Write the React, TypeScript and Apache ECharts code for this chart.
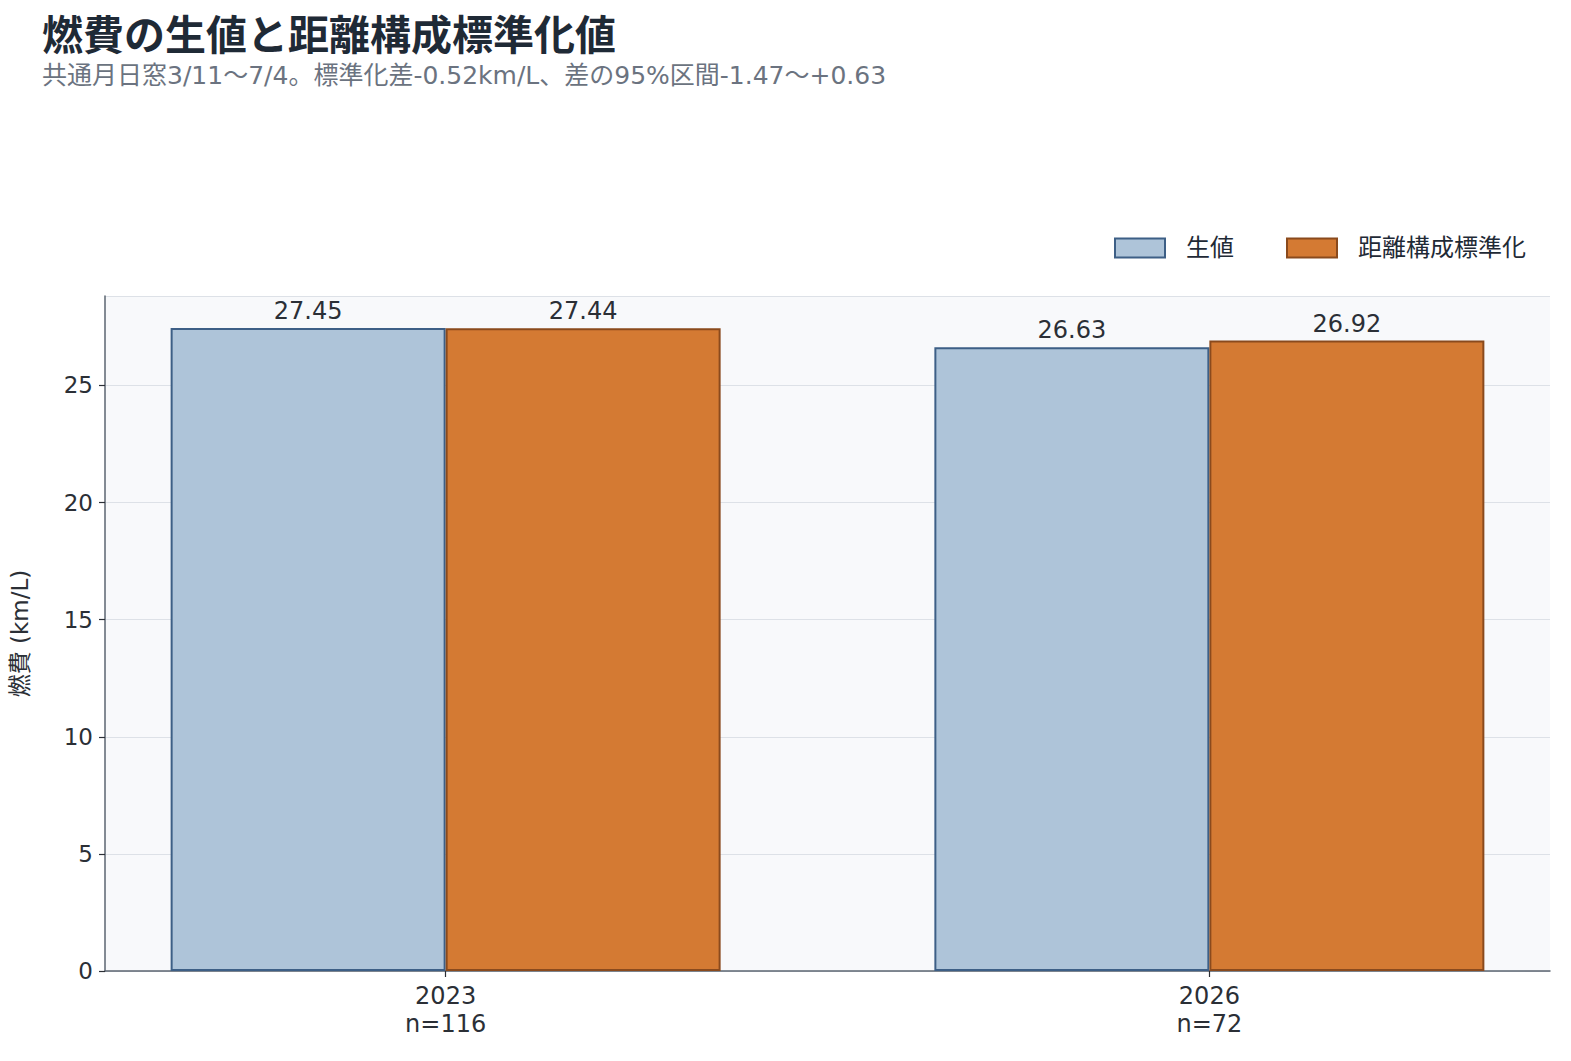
import { useEffect, useRef } from 'react';
import * as echarts from 'echarts';

const years = ['2023', '2026'];
const sampleSizes = [116, 72];
const rawValues = [27.45, 26.63];
const standardizedValues = [27.44, 26.92];
const seriesNames = ['生値', '距離構成標準化'];
const yTicks = { min: 0, max: 28.82, interval: 5 };

const FONT = '"DejaVu Sans", "Noto Sans CJK JP", sans-serif';

export default function App() {
  const chartRef = useRef<HTMLDivElement>(null);

  useEffect(() => {
    if (!chartRef.current) return;
    const chart = echarts.init(chartRef.current, undefined, { renderer: 'svg' });

    const label = {
      show: true,
      position: 'top' as const,
      distance: 5,
      fontSize: 24,
      color: '#2b2f36',
      fontFamily: FONT,
      formatter: (p: any) => p.value[1].toFixed(2)
    };

    const option: echarts.EChartsOption = {
      animation: false,
      textStyle: { fontFamily: FONT },
      title: [
        {
          text: '燃費の生値と距離構成標準化値',
          left: 37,
          top: 6,
          textStyle: { fontSize: 41, fontWeight: 'bold', color: '#1f2a36', fontFamily: '"Noto Sans CJK JP", sans-serif' }
        },
        {
          text: '共通月日窓3/11〜7/4。標準化差-0.52km/L、差の95%区間-1.47〜+0.63',
          left: 37,
          top: 58,
          textStyle: { fontSize: 25, fontWeight: 'normal', color: '#6b7380', fontFamily: FONT }
        }
      ],
      legend: {
        right: 40,
        top: 231,
        icon: 'rect',
        itemWidth: 50,
        itemHeight: 19,
        itemGap: 52,
        textStyle: { fontSize: 24, color: '#1f2a36', fontFamily: FONT, padding: [0, 0, 0, 16] },
        data: seriesNames
      },
      grid: {
        left: 104,
        right: 21,
        top: 296,
        bottom: 90,
        show: true,
        backgroundColor: '#f8f9fb',
        borderWidth: 0
      },
      xAxis: {
        type: 'value',
        min: -0.446,
        max: 1.446,
        splitLine: { show: false },
        axisLine: { show: true, onZero: false, lineStyle: { color: '#5b6470', width: 1.5 } },
        axisTick: {
          show: true,
          customValues: [0, 1],
          length: 6,
          lineStyle: { color: '#2b2f36', width: 1.2 }
        },
        axisLabel: {
          customValues: [0, 1],
          fontSize: 24,
          lineHeight: 28,
          color: '#2b2f36',
          margin: 11,
          formatter: (v: number) => {
            const i = Math.round(v);
            return `${years[i]}\nn=${sampleSizes[i]}`;
          }
        }
      },
      yAxis: {
        type: 'value',
        min: yTicks.min,
        max: yTicks.max,
        interval: yTicks.interval,
        name: '燃費 (km/L)',
        nameLocation: 'middle',
        nameGap: 74,
        nameTextStyle: { fontSize: 23, color: '#2b2f36', fontFamily: FONT },
        axisLine: { show: true, onZero: false, lineStyle: { color: '#5b6470', width: 1.5 } },
        axisTick: { show: true, length: 6, lineStyle: { color: '#2b2f36', width: 1.2 } },
        axisLabel: { fontSize: 23, color: '#2b2f36', margin: 12, showMaxLabel: false },
        splitLine: { show: true, lineStyle: { color: '#dde1e7', width: 1.2 } }
      },
      series: [
        {
          name: seriesNames[0],
          type: 'bar',
          barWidth: 275,
          barGap: '0%',
          data: rawValues.map((v, i) => [i, v]),
          itemStyle: { color: '#aec4d9', borderColor: '#3d5f86', borderWidth: 2 },
          label
        },
        {
          name: seriesNames[1],
          type: 'bar',
          barWidth: 275,
          barGap: '0%',
          data: standardizedValues.map((v, i) => [i, v]),
          itemStyle: { color: '#d47a33', borderColor: '#8a4a1d', borderWidth: 2 },
          label
        }
      ]
    };

    chart.setOption(option);
    return () => chart.dispose();
  }, []);

  return (
    <div
      ref={chartRef}
      style={{ position: 'absolute', left: 0, top: 0, width: 1571, height: 1061, background: '#fff' }}
    />
  );
}
